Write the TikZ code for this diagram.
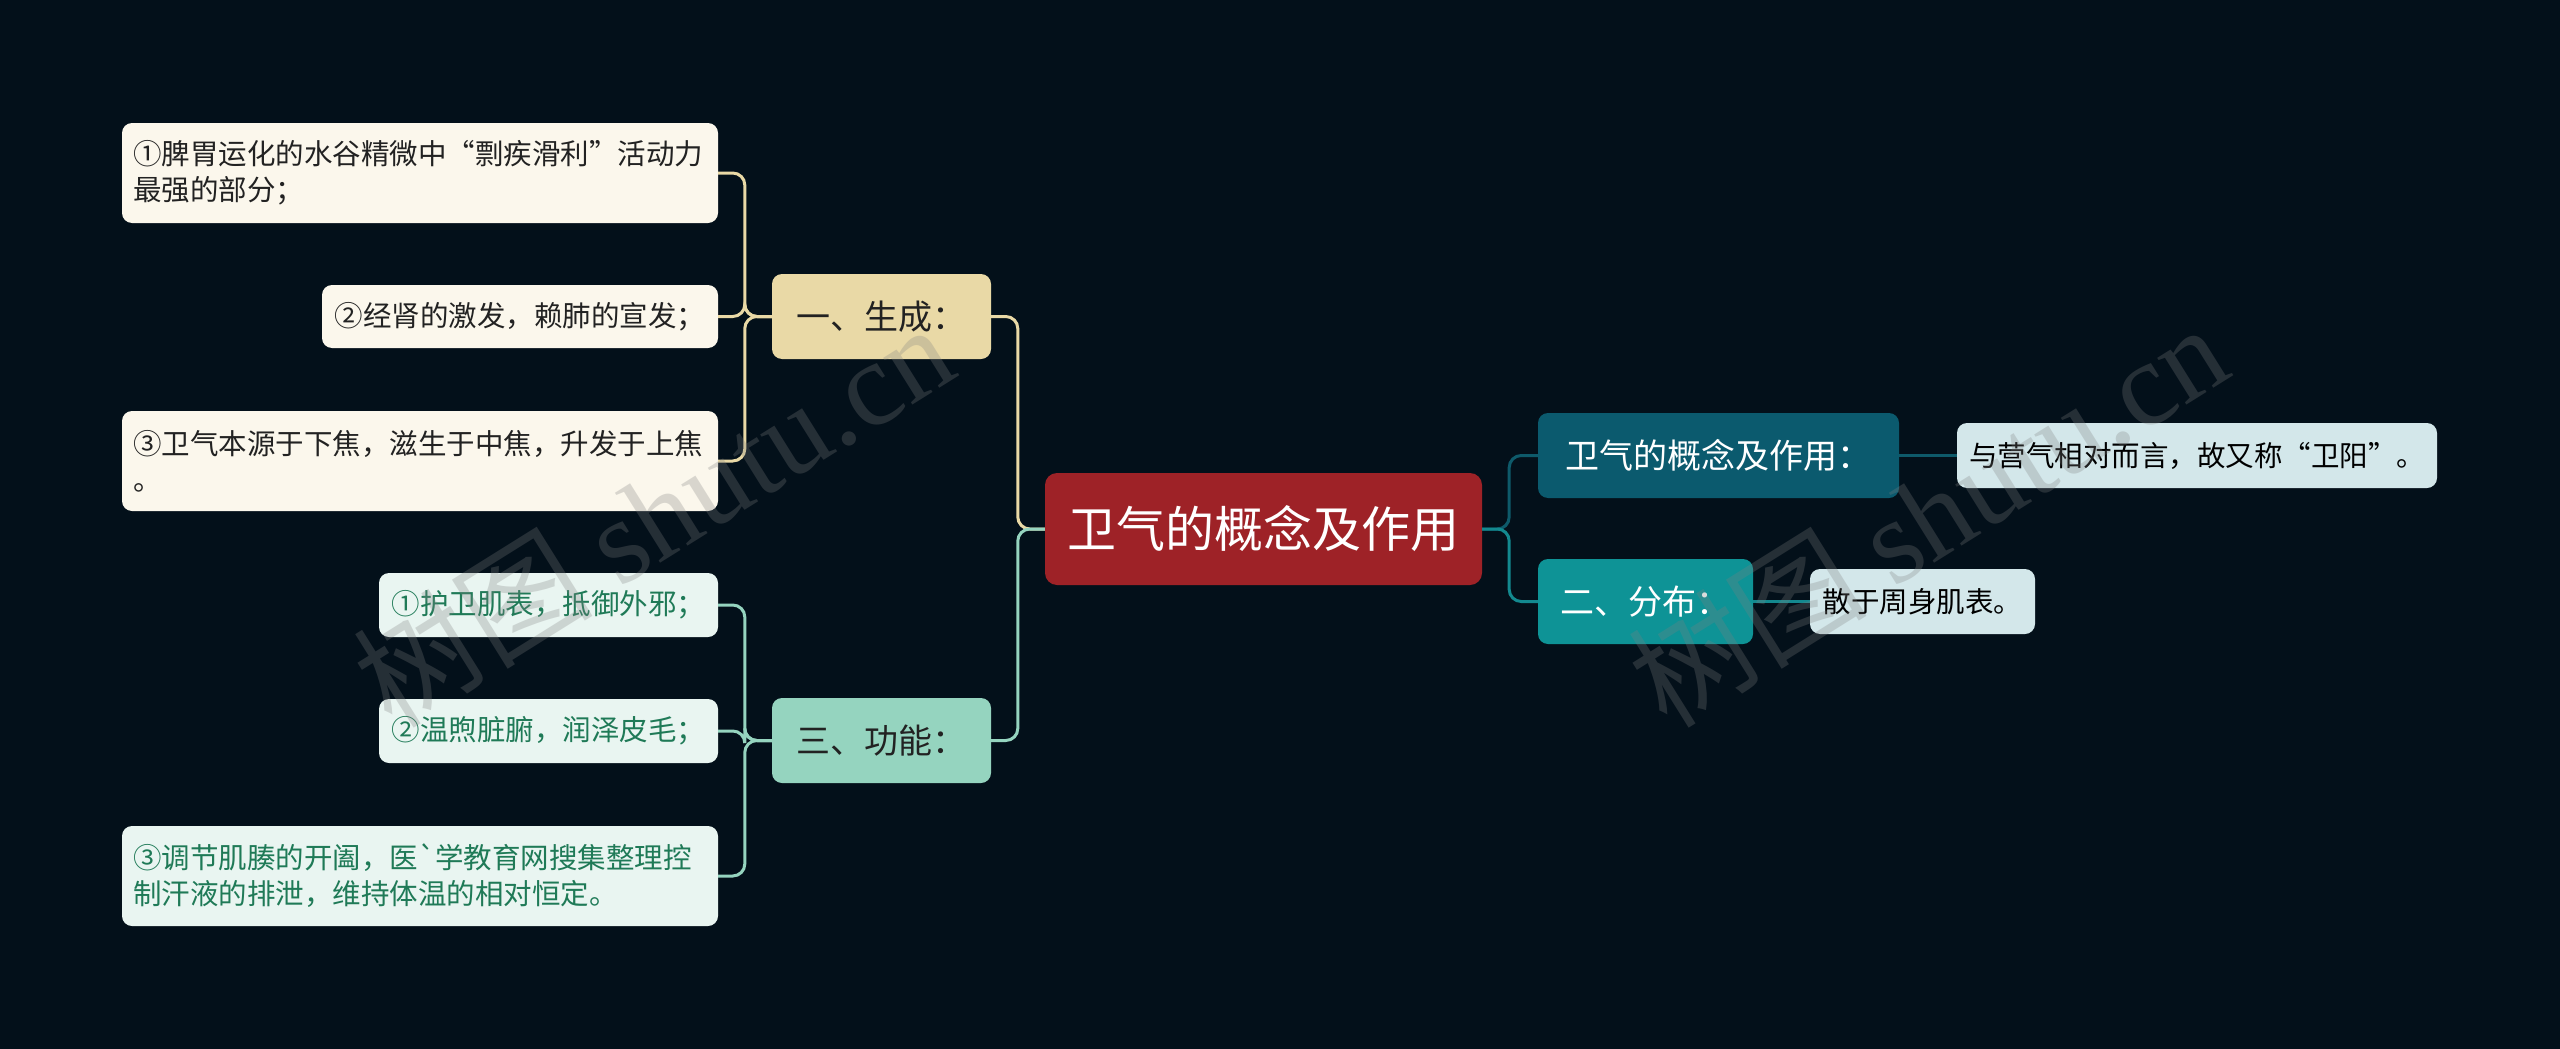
\documentclass[tikz,border=0pt]{standalone}
\usepackage{fontspec}
\setmainfont{Noto Sans CJK SC}
\newfontfamily\nolig{Noto Sans CJK SC}
\newfontfamily\wmfont{Liberation Serif}
\definecolor{bg}{HTML}{03101A}
\definecolor{rootc}{HTML}{9E2227}
\definecolor{genc}{HTML}{E9D9A6}
\definecolor{genleaf}{HTML}{FBF7EC}
\definecolor{funcc}{HTML}{95D4BF}
\definecolor{funcleaf}{HTML}{E9F5F1}
\definecolor{functext}{HTML}{1F7A57}
\definecolor{rone}{HTML}{0B5A6E}
\definecolor{rtwo}{HTML}{0E9396}
\definecolor{rleaf}{HTML}{D3E7EA}
\definecolor{ronel}{HTML}{0E5A6A}
\definecolor{rtwol}{HTML}{13898F}
\definecolor{darktext}{HTML}{222222}
\tikzset{
  basebox/.style={rounded corners=10pt, inner sep=0pt, align=center},
  rootbox/.style={basebox, rounded corners=12pt, fill=rootc, text=white,
    font=\fontsize{49pt}{56pt}\selectfont},
  lonebox/.style={basebox, minimum height=85pt, font=\fontsize{34pt}{40pt}\selectfont},
  leafbox/.style={basebox, font=\fontsize{28.5pt}{36pt}\selectfont},
  wideleaf/.style={leafbox, text width=574pt, inner xsep=11pt, inner ysep=0pt, align=left, minimum height=100pt},
  link/.style={line width=3pt, rounded corners=12pt},
  wm/.style={text=gray, text opacity=0.28, font=\fontsize{120pt}{120pt}\selectfont, inner sep=0pt}
}
\begin{document}
\begin{tikzpicture}[x=1pt,y=-1pt]
\path[fill=bg] (0,0) rectangle (2560,1049);
% root
\node[rootbox, minimum width=437pt, minimum height=112pt] (root) at (1263.5,529) {卫气的概念及作用};
% left level 1
\node[lonebox, fill=genc, text=darktext, minimum width=219pt] (gen) at (881.5,316.5) {一、生成：};
\node[lonebox, fill=funcc, text=darktext, minimum width=219pt] (func) at (881.5,740.5) {三、功能：};
% generation leaves
\node[wideleaf, fill=genleaf, text=darktext] (a1) at (420,173) {①脾胃运化的水谷精微中“剽疾滑利”活动力\\最强的部分；};
\node[leafbox, fill=genleaf, text=darktext, minimum width=396pt, minimum height=63pt] (a2) at (520,316.5) {②经肾的激发，赖肺的宣发；};
\node[wideleaf, fill=genleaf, text=darktext] (a3) at (420,461) {③卫气本源于下焦，滋生于中焦，升发于上焦\\。};
% function leaves
\node[leafbox, fill=funcleaf, text=functext, minimum width=339pt, minimum height=64pt] (f1) at (548.5,605) {①护卫肌表，抵御外邪；};
\node[leafbox, fill=funcleaf, text=functext, minimum width=339pt, minimum height=64pt] (f2) at (548.5,731) {②温煦脏腑，润泽皮毛；};
\node[wideleaf, fill=funcleaf, text=functext] (f3) at (420,876) {③调节肌腠的开阖，医{\nolig `}学教育网搜集整理控\\制汗液的排泄，维持体温的相对恒定。};
% right level 1
\node[lonebox, fill=rone, text=white, minimum width=361pt] (r1) at (1718.5,455.5) {卫气的概念及作用：};
\node[lonebox, fill=rtwo, text=white, minimum width=215pt] (r2) at (1645.5,601.5) {二、分布：};
% right leaves
\node[leafbox, fill=rleaf, text=black, minimum width=480pt, minimum height=65pt] (l1) at (2197,455.5) {与营气相对而言，故又称“卫阳”。};
\node[leafbox, fill=rleaf, text=black, minimum width=225pt, minimum height=65pt] (l2) at (1922.5,601.5) {散于周身肌表。};
% connectors left
\draw[link, genc] (root.west) -- ++(-27pt,0) |- (gen.east);
\draw[link, funcc] (root.west) -- ++(-27pt,0) |- (func.east);
\draw[link, genc] (gen.west) -- ++(-27pt,0) |- (a1.east);
\draw[link, genc] (gen.west) -- ++(-27pt,0) |- (a2.east);
\draw[link, genc] (gen.west) -- ++(-27pt,0) |- (a3.east);
\draw[link, funcc] (func.west) -- ++(-27pt,0) |- (f1.east);
\draw[link, funcc] (func.west) -- ++(-27pt,0) |- (f2.east);
\draw[link, funcc] (func.west) -- ++(-27pt,0) |- (f3.east);
% connectors right
\draw[link, ronel] (root.east) -- ++(27pt,0) |- (r1.west);
\draw[link, rtwol] (root.east) -- ++(27pt,0) |- (r2.west);
\draw[link, ronel] (r1.east) -- (l1.west);
\draw[link, rtwol] (r2.east) -- (l2.west);
% watermarks
\node[wm, rotate=32] (wm1) at (653,514) {树图 {\wmfont shutu.cn}};
\node[wm, rotate=32] (wm2) at (1927,514) {树图 {\wmfont shutu.cn}};
\end{tikzpicture}
\end{document}
